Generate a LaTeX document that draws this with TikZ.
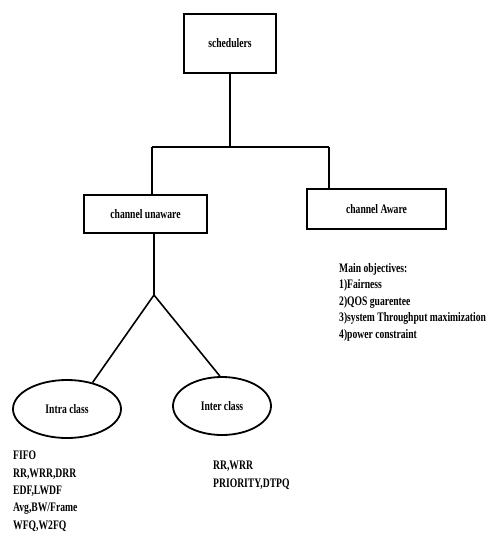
\documentclass[tikz,border=0pt]{standalone}
\usepackage{fontspec}
\setmainfont{Liberation Serif}
\newfontfamily\condfont[FakeStretch=0.74]{Liberation Serif}
\usetikzlibrary{shapes.geometric,positioning,calc}
\tikzset{
  box/.style = {rectangle, draw, line width=2.4pt, align=center,
    font=\condfont\bfseries\fontsize{13}{14}\selectfont},
  oval/.style = {ellipse, draw, line width=1.8pt, inner sep=0pt,
    font=\condfont\bfseries\fontsize{13}{14}\selectfont},
  list/.style = {anchor=north west, align=left, inner sep=0pt},
  link/.style = {line width=1.6pt}
}

\begin{document}
\begin{tikzpicture}[x=1pt, y=-1pt]
\useasboundingbox (0,0) rectangle (492,554);

\node[box, minimum width=92pt, minimum height=59pt] (sched) at (230,43.5) {schedulers};
\node[box, minimum width=123pt, minimum height=38pt] (unaware) at (145.5,214) {channel unaware};
\node[box, minimum width=139pt, minimum height=40pt] (aware) at (376.5,209) {channel Aware};

\node[oval, minimum width=108pt, minimum height=58pt] (intra) at (67,409) {Intra class};
\node[oval, minimum width=98pt, minimum height=58pt] (inter) at (222,406) {Inter class};

\node[list, font=\condfont\bfseries\fontsize{13}{16.5}\selectfont] (goals) at (339,263)
  {Main objectives:\\ 1)Fairness\\ 2)QOS guarentee\\ 3)system Throughput maximization\\ 4)power constraint};
\node[list, font=\condfont\bfseries\fontsize{13}{17.3}\selectfont] (intralist) at (13,451)
  {FIFO\\ RR,WRR,DRR\\ EDF,LWDF\\ Avg,BW/Frame\\ WFQ,W2FQ};
\node[list, font=\condfont\bfseries\fontsize{13}{18}\selectfont] (interlist) at (213,461)
  {RR,WRR\\ PRIORITY,DTPQ};

\coordinate (hbarL) at (152,147);
\coordinate (hbarR) at (329,147);
\coordinate (fork) at (154,295);

\draw[link] (sched.south) -- (sched.south |- hbarL);
\draw[link] (hbarL) -- (hbarR);
\draw[link] (hbarL) -- (hbarL |- unaware.north);
\draw[link] (hbarR) -- (hbarR |- aware.north);
\draw[link] (unaware.south -| fork) -- (fork);
\draw[link] (fork) -- (intra.46);
\draw[link] (fork) -- (inter.94);

\end{tikzpicture}
\end{document}
